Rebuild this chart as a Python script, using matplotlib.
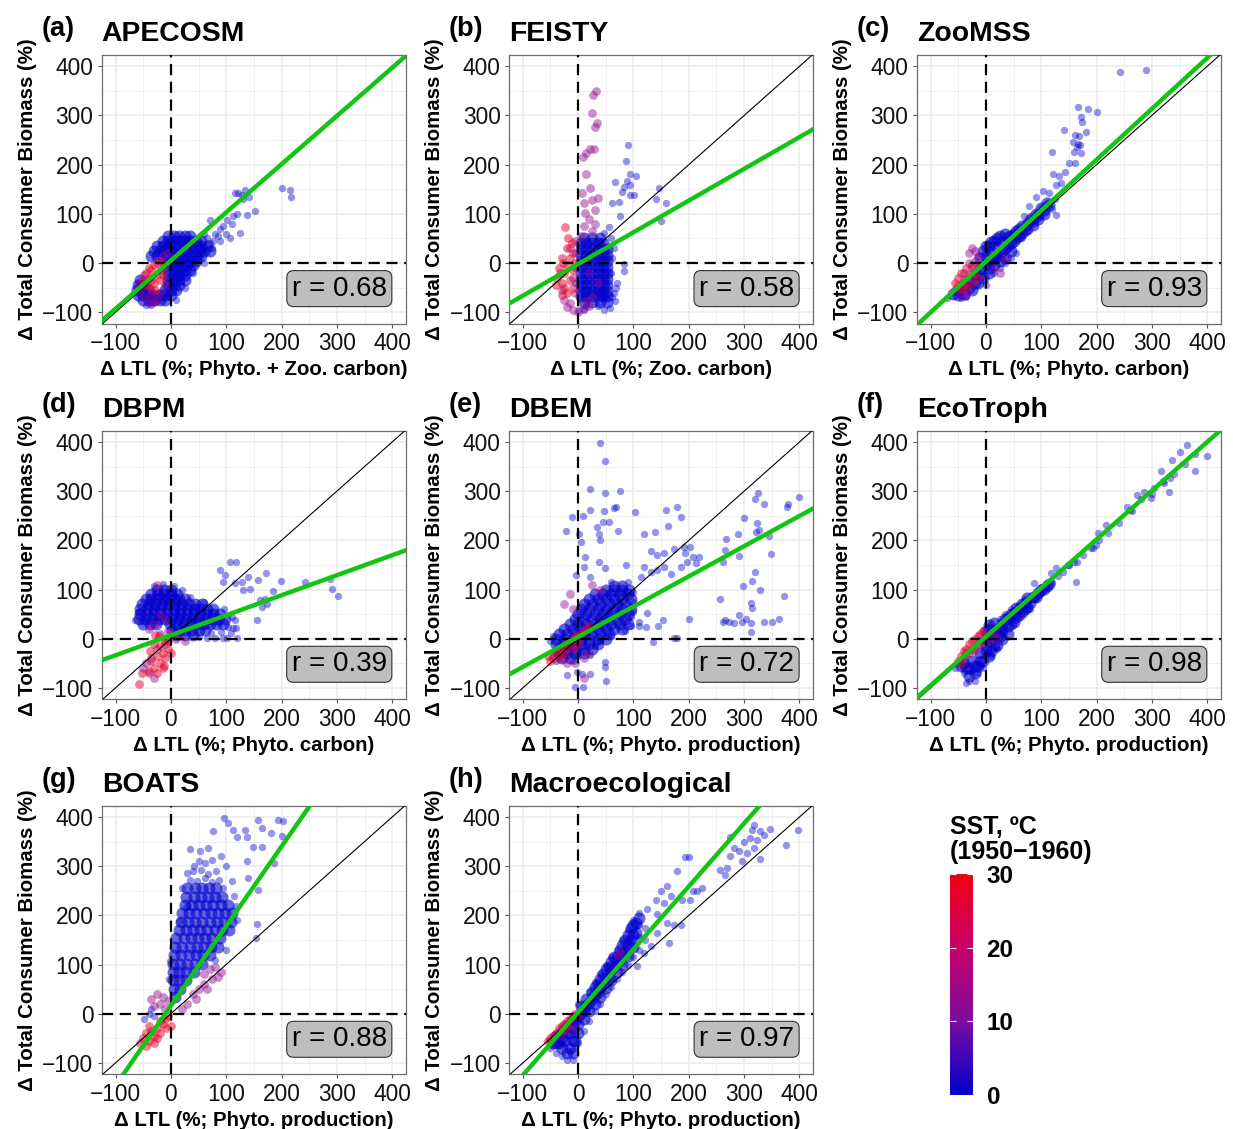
import matplotlib.pyplot as plt
from matplotlib.colors import LinearSegmentedColormap, Normalize
from matplotlib.cm import ScalarMappable

plt.rcParams["font.family"] = ["Liberation Sans", "DejaVu Sans"]

models = ["APECOSM", "FEISTY", "ZooMSS", "DBPM", "DBEM", "EcoTroph", "BOATS", "Macroecological"]
tags = ["(a)", "(b)", "(c)", "(d)", "(e)", "(f)", "(g)", "(h)"]
x_labels = [
    "Δ LTL (%; Phyto. + Zoo. carbon)",
    "Δ LTL (%; Zoo. carbon)",
    "Δ LTL (%; Phyto. carbon)",
    "Δ LTL (%; Phyto. carbon)",
    "Δ LTL (%; Phyto. production)",
    "Δ LTL (%; Phyto. production)",
    "Δ LTL (%; Phyto. production)",
    "Δ LTL (%; Phyto. production)",
]
y_label = "Δ Total Consumer Biomass (%)"
r_values = [0.68, 0.58, 0.93, 0.39, 0.72, 0.98, 0.88, 0.97]
fit_intercepts = [5, -2, 3, 7, 4, 4, 16, 3]
fit_slopes = [0.98, 0.645, 1.035, 0.407, 0.614, 0.99, 1.62, 1.28]
band_sst = [0, 0, 13, 27]  # dense cold core / scattered cold / mid / warm, deg C

# ---- APECOSM (x, y) ----
apecosm_core = [
    (-5, 55), (5, 55), (15, 55), (25, 55), (35, 55),
    (-15, 45), (-5, 45), (5, 45), (15, 45), (25, 45), (35, 45), (45, 45), (55, 45),
    (-25, 35), (-15, 35), (-5, 35), (5, 35), (15, 35), (25, 35), (35, 35), (45, 35), (55, 35), (65, 35),
    (-30, 25), (-20, 25), (-10, 25), (0, 25), (10, 25), (20, 25), (30, 25), (40, 25), (50, 25), (60, 25), (70, 25),
    (-35, 15), (-25, 15), (-15, 15), (-5, 15), (5, 15), (15, 15), (25, 15), (35, 15), (45, 15), (55, 15),
    (-5, 5), (5, 5), (15, 5), (25, 5), (35, 5), (45, 5),
    (0, -5), (10, -5), (20, -5), (30, -5), (40, -5),
    (-5, -15), (5, -15), (15, -15), (25, -15), (35, -15),
    (-5, -25), (5, -25), (15, -25), (25, -25),
    (-55, -35), (-5, -35), (5, -35), (15, -35), (25, -35),
    (-60, -45), (-50, -45), (-5, -45), (5, -45), (15, -45),
    (-62, -55), (-52, -55), (-42, -55), (-10, -55), (0, -55), (10, -55),
    (-60, -65), (-50, -65), (-40, -65), (-30, -65), (-20, -65), (-10, -65), (0, -65),
    (-50, -75), (-40, -75), (-30, -75), (-20, -75), (-10, -75),
]
apecosm_cold = [
    (71, 88), (89, 70), (101, 88), (113, 95), (137, 98), (152, 106), (77, 44), (89, 44), (107, 51), (125, 61),
    (116, 142), (122, 142), (128, 139), (134, 149), (142, 135), (200, 152), (216, 148), (217, 135),
    (80, 60), (95, 75), (65, 50), (75, 30), (53, 10), (40, -20), (25, -50), (10, -75), (-45, -85), (-35, -85),
    (60, 60), (70, 40), (85, 55), (100, 60), (110, 80), (120, 100), (130, 130), (60, 0),
]
apecosm_mid = [(-55, -55), (-48, -70), (-40, -82), (-30, -80), (-58, -40), (-20, -60), (-10, -45),
               (-15, 15), (-5, 20), (-35, -65), (-48, -25), (-25, -75)]
apecosm_warm = [(-45, -45), (-40, -30), (-35, -15), (-30, -5), (-25, 0), (-20, 5), (-38, -50), (-30, -40),
                (-25, -25), (-18, -15), (-12, -5), (-45, -20), (-50, -35), (-28, -55), (-20, -35), (-35, -35),
                (-40, -10), (-15, -25)]

# ---- FEISTY ----
feisty_core = [
    (10, 50), (25, 50), (40, 50),
    (5, 40), (15, 40), (25, 40), (35, 40), (45, 40),
    (5, 28), (15, 28), (25, 28), (35, 28), (45, 28), (52, 28),
    (5, 16), (15, 16), (25, 16), (35, 16), (45, 16), (52, 16),
    (5, 4), (15, 4), (25, 4), (35, 4), (45, 4), (52, 4),
    (5, -8), (15, -8), (25, -8), (35, -8), (45, -8), (52, -8),
    (5, -20), (15, -20), (25, -20), (35, -20), (45, -20), (52, -20),
    (5, -32), (15, -32), (25, -32), (35, -32), (45, -32), (52, -32),
    (5, -44), (15, -44), (25, -44), (35, -44), (45, -44), (52, -44),
    (5, -56), (15, -56), (25, -56), (35, -56), (45, -56), (52, -56),
    (5, -68), (15, -68), (25, -68), (35, -68), (45, -68), (52, -68),
    (10, -80), (25, -80), (40, -80), (52, -80),
]
feisty_cold = [
    (1, -95), (10, -95), (46, -95), (58, -92), (15, -88), (35, -88),
    (90, 240), (87, 208), (94, 182), (105, 177), (67, 164), (82, 155), (88, 166), (94, 159), (79, 145),
    (94, 139), (101, 139), (61, 122), (73, 125), (76, 95), (146, 152), (141, 130), (158, 122), (150, 86),
    (82, -3), (82, -17), (70, -41), (67, -78), (65, -60), (68, -50), (55, 74), (46, 61), (65, 30),
    (60, 50), (62, 10), (60, -20), (62, -70), (-5, 20), (-5, -10), (-5, -40),
]
feisty_mid = [(33, 350), (27, 341), (25, 306), (34, 284), (31, 277), (28, 232), (21, 232), (14, 223), (9, 216),
              (14, 182), (22, 152), (7, 142), (36, 132), (25, 128), (10, 122), (31, 108), (13, 101), (20, 90),
              (30, 80), (10, 75), (25, 65), (5, 55), (-5, 45), (-15, 30), (-20, -90), (-10, -95), (0, -100),
              (10, -92), (20, -88), (-25, -75), (-15, -82), (15, -78), (25, -70), (-5, -60), (-30, -55),
              (-10, -30), (20, -20), (35, -40)]
feisty_warm = [(-23, 74), (-20, 30), (-30, 10), (-35, -10), (-38, -30), (-40, -45), (-30, -40), (-25, -20),
               (-20, -5), (-15, 10), (-10, 20), (-25, -50), (-15, -35), (-10, -15), (-5, 0), (-28, 0),
               (-33, -20), (-20, -60), (-10, -50), (-12, 40), (-18, 50), (-30, -65)]

# ---- ZooMSS ----
zoomss_core = [
    (-60, -62), (-50, -55), (-40, -45), (-30, -35), (-20, -22), (-10, -12), (0, -2), (0, 15), (10, 5), (10, 22),
    (20, 15), (20, 32), (30, 25), (30, 42), (40, 35), (40, 52), (50, 45), (50, 60), (60, 55), (60, 70),
    (70, 68), (75, 80), (85, 85), (95, 98), (105, 108), (115, 118), (-5, -30), (5, -20), (15, -5), (25, 5),
    (35, 10), (45, 25), (-15, -40), (-25, -55), (-40, -62), (0, 35), (10, 42), (20, 50),
    (-10, 10), (-5, 25), (5, 35), (15, 45), (25, 55), (35, 60), (45, 55), (55, 50), (65, 62), (75, 70),
    (85, 78), (95, 90), (105, 100), (100, 112), (-30, -50), (-50, -65), (-20, -40), (-10, -25), (5, -10),
    (15, 10), (25, 20), (35, 30), (45, 40), (55, 65), (65, 75), (80, 88), (90, 100), (110, 122),
]
zoomss_cold = [
    (-70, -72), (-45, -72), (-35, -70), (0, -45), (55, 20), (45, 10), (35, 0), (25, -10), (15, -20),
    (65, 50), (80, 95), (90, 100), (100, 112), (110, 120), (125, 130), (120, 110),
    (243, 389), (289, 393), (166, 318), (184, 314), (200, 307), (172, 297), (174, 287), (142, 270), (161, 261),
    (181, 267), (169, 259), (158, 247), (166, 242), (160, 226), (172, 223), (151, 203), (161, 203), (120, 225),
    (122, 182), (133, 177), (136, 162), (143, 186), (127, 159), (90, 135), (104, 147), (114, 143), (127, 98),
    (78, 115), (69, 95), (165, 235), (170, 240),
]
zoomss_mid = [(-30, 20), (-25, 30), (-20, 25), (-15, 15), (-20, 5), (-30, 0), (-10, -5), (-25, -10), (-40, -20),
              (-55, -55), (-45, -60), (-35, -65), (15, -10), (25, -20), (35, 10)]
zoomss_warm = [(-55, -40), (-50, -30), (-45, -20), (-40, -35), (-35, -10), (-30, -25), (-25, -40), (-20, -20),
               (-45, -50), (-35, -50), (-25, -5), (-15, -30), (-50, -45), (-40, -45)]

# ---- DBPM ----
dbpm_core = [
    (-25, 100), (-12, 100), (0, 100),
    (-35, 90), (-24, 90), (-12, 90), (0, 90), (12, 90),
    (-45, 80), (-35, 80), (-25, 80), (-15, 80), (-5, 80), (5, 80), (15, 80), (25, 80),
    (-52, 70), (-40, 70), (-28, 70), (-16, 70), (-4, 70), (8, 70), (20, 70), (32, 70), (44, 70), (56, 70),
    (-55, 60), (-43, 60), (-31, 60), (-19, 60), (-7, 60), (5, 60), (17, 60), (29, 60), (41, 60), (53, 60),
    (65, 60), (77, 60),
    (-55, 50), (-43, 50), (-31, 50), (-19, 50), (-7, 50), (5, 50), (17, 50), (29, 50), (41, 50), (53, 50),
    (65, 50), (77, 50), (89, 50),
    (-58, 40), (-46, 40), (-34, 40), (-22, 40), (-10, 40), (2, 40), (14, 40), (26, 40), (38, 40), (50, 40),
    (62, 40), (74, 40), (86, 40), (98, 40),
    (-50, 30), (-38, 30), (-26, 30), (-2, 30), (10, 30), (22, 30), (34, 30), (46, 30), (58, 30), (70, 30),
    (82, 30), (94, 30),
    (2, 18), (14, 18), (26, 18), (38, 18), (50, 18), (62, 18),
    (10, 8), (25, 8), (40, 8),
]
dbpm_cold = [
    (72, 12), (90, 14), (108, 12), (50, 3), (65, 2), (80, 2), (95, 2), (104, 24), (118, 22), (116, 38),
    (-64, 38), (-60, 55), (-30, 108), (-15, 112), (5, 108), (20, 100), (35, 85), (60, 75), (96, 60), (110, 45),
    (107, 155), (117, 157), (89, 140), (97, 129), (95, 116), (116, 113), (128, 116), (140, 126), (131, 99),
    (143, 102), (158, 119), (172, 133), (184, 98), (199, 118), (243, 116), (288, 121), (291, 102), (302, 87),
    (155, 38), (173, 71), (161, 79), (113, 21), (119, 1), (101, 1), (170, 80), (165, 65),
]
dbpm_mid = [(-20, 50), (-10, 40), (-30, 30), (-40, 20), (-20, 10), (-5, 15), (15, 5), (25, -5), (-25, -20),
            (-35, -40), (-45, -50), (-40, -70), (-30, -80), (-50, -60), (10, 0), (-10, -10), (-25, 110)]
dbpm_warm = [(-30, -10), (-20, -15), (-10, -5), (-5, -20), (-15, -30), (-25, -35), (-35, -45), (-20, -50),
             (-10, -40), (-30, -60), (-25, -70), (-15, -60), (-40, -65), (-58, -92), (-52, -69), (-5, -5),
             (-22, 5), (-28, 8), (0, -30), (-12, -55), (-38, -25)]

# ---- DBEM ----
dbem_core = [
    (65, 108), (80, 108),
    (50, 100), (65, 100), (80, 100), (92, 100),
    (30, 90), (45, 90), (60, 90), (75, 90), (90, 90),
    (20, 80), (35, 80), (50, 80), (65, 80), (80, 80), (95, 80),
    (10, 70), (25, 70), (40, 70), (55, 70), (70, 70), (85, 70),
    (5, 60), (20, 60), (35, 60), (50, 60), (65, 60), (80, 60), (95, 60),
    (0, 50), (15, 50), (30, 50), (45, 50), (60, 50), (75, 50), (90, 50),
    (-5, 40), (10, 40), (25, 40), (40, 40), (55, 40), (70, 40), (85, 40),
    (-15, 30), (0, 30), (15, 30), (30, 30), (45, 30), (60, 30), (75, 30), (90, 30),
    (-25, 20), (-10, 20), (5, 20), (20, 20), (35, 20), (50, 20), (65, 20), (80, 20),
    (-35, 10), (-20, 10), (-5, 10), (10, 10), (25, 10), (40, 10), (55, 10),
    (-40, 0), (-25, 0), (-10, 0), (5, 0), (20, 0), (35, 0), (50, 0),
    (-40, -10), (-25, -10), (-10, -10), (5, -10), (20, -10), (35, -10),
    (-35, -20), (-20, -20), (-5, -20), (10, -20), (25, -20),
    (-35, -30), (-20, -30), (-5, -30), (10, -30),
    (-30, -40), (-15, -40),
]
dbem_cold = [
    (100, 55), (95, 45), (110, 35), (110, 25), (95, 25), (85, 15), (60, 5), (-50, -5), (-45, 5), (-45, -35),
    (-40, -45), (-10, -45), (0, -35), (30, -15), (40, -5), (100, 75), (100, 95), (90, 115), (60, 115),
    (40, 398), (48, 361), (22, 305), (75, 300), (49, 296), (-11, 248), (8, 249), (-22, 220), (22, 262),
    (46, 259), (64, 265), (69, 268), (103, 258), (45, 238), (34, 227), (55, 237), (72, 219), (37, 212),
    (1, 213), (5, 197), (40, 200), (13, 166), (37, 156), (10, 146), (48, 143), (-3, 130), (22, 126),
    (158, 261), (179, 268), (186, 247), (162, 229), (119, 212), (138, 217), (132, 178), (143, 170),
    (156, 174), (173, 183), (191, 187), (202, 187), (193, 174), (207, 166), (219, 166), (213, 154),
    (196, 156), (185, 146), (167, 132), (155, 146), (143, 139), (131, 136), (119, 146), (86, 150), (113, 126),
    (399, 289), (379, 273), (378, 267), (325, 296), (319, 285), (335, 274), (299, 245), (323, 235),
    (322, 218), (345, 208), (348, 172), (326, 221), (289, 213), (267, 202), (265, 181), (291, 168),
    (261, 155), (319, 136), (315, 118), (298, 108), (329, 99), (372, 87), (256, 81), (313, 72), (315, 63),
    (363, 41), (350, 35), (335, 35), (313, 31), (313, 14), (296, 35), (290, 48), (304, 41), (281, 31),
    (272, 35), (266, 39), (261, 33), (200, 40), (154, 38), (144, 26), (136, -6), (173, 1), (179, 1),
    (122, 24), (125, 52),
    (-20, -74), (-2, -67), (7, -71), (22, -71), (-5, -98), (8, -98), (51, -87), (49, -57), (49, -47), (22, -33),
]
dbem_mid = [(-30, -40), (-20, -50), (-5, -50), (10, -40), (20, -30), (25, 110), (40, 100), (-10, 60),
            (10, -80), (-25, 70), (-15, 90)]
dbem_warm = [(-45, -40), (-40, -30), (-35, -25), (-30, -20), (-25, -15), (-20, -10), (-15, -5), (-10, 0),
             (-5, 5), (0, 5), (5, 10), (10, 15), (15, 20), (20, 25), (-50, -45), (-35, -40), (-25, -30),
             (-10, -20), (0, -10), (-55, -35)]

# ---- EcoTroph ----
ecotroph_core = [
    (-45, -55), (-35, -60), (-30, -75), (-20, -70), (-15, -55), (-5, -45), (-10, -30), (0, -25), (0, -12),
    (10, -5), (10, 10), (20, 5), (20, 20), (30, 15), (30, 30), (40, 25), (40, 42), (50, 35), (50, 52),
    (60, 48), (60, 62), (70, 60), (70, 72), (80, 72), (85, 85), (95, 92), (105, 102), (115, 112),
    (10, -25), (20, -12), (30, 0), (40, 10), (5, 20), (15, 32),
    (0, 0), (0, 15), (5, 28), (15, -15), (25, 5), (25, 20), (35, 40), (45, 30), (45, 50), (55, 45), (55, 62),
    (65, 55), (65, 70), (75, 65), (75, 82), (90, 85), (100, 100), (110, 108), (-20, -55), (-30, -60),
    (-25, -45), (-10, -45), (5, -35), (-40, -50),
]
ecotroph_cold = [
    (-55, -60), (-40, -70), (-30, -85), (-35, -90), (-20, -85), (-25, -65), (-15, -70), (-10, -55),
    (0, -30), (20, -20), (10, -35), (-5, -60), (25, 40), (35, 50), (45, 60), (55, 55), (65, 65), (75, 75),
    (90, 80), (100, 92), (110, 105), (120, 115), (130, 128), (140, 135), (150, 150), (160, 155), (175, 170),
    (190, 185), (205, 200), (220, 215), (240, 235), (260, 262), (280, 285), (300, 295), (320, 320),
    (340, 335), (360, 355),
    (364, 393), (351, 380), (337, 364), (378, 376), (399, 371), (378, 341), (316, 342), (333, 326),
    (322, 316), (331, 299), (298, 287), (304, 306), (286, 299), (273, 292), (255, 268), (265, 260),
    (217, 231), (202, 214), (199, 190), (193, 184), (164, 157), (163, 116), (149, 150), (127, 143),
    (117, 133), (87, 113), (99, 106), (70, 80), (80, 60),
]
ecotroph_mid = [(-40, -40), (-30, -30), (-20, -25), (-10, -10), (5, -5), (15, 10), (20, 0)]
ecotroph_warm = [(-50, -45), (-45, -35), (-40, -25), (-35, -20), (-30, -10), (-25, -5), (-20, 0), (-15, 5),
                 (-10, 10), (-5, 15), (-35, -30), (-25, -20), (-15, -10), (-45, -50)]

# ---- BOATS ----
boats_core = [
    (30, 255), (43, 255), (56, 255), (69, 255), (82, 255),
    (28, 238), (41, 238), (54, 238), (67, 238), (80, 238), (93, 238),
    (25, 221), (38, 221), (51, 221), (64, 221), (77, 221), (90, 221), (103, 221),
    (20, 204), (33, 204), (46, 204), (59, 204), (72, 204), (85, 204), (98, 204), (110, 204),
    (18, 187), (31, 187), (44, 187), (57, 187), (70, 187), (83, 187), (96, 187), (108, 187),
    (14, 170), (27, 170), (40, 170), (53, 170), (66, 170), (79, 170), (92, 170), (105, 170),
    (10, 153), (23, 153), (36, 153), (49, 153), (62, 153), (75, 153), (88, 153),
    (8, 136), (21, 136), (34, 136), (47, 136), (60, 136), (73, 136), (86, 136),
    (6, 119), (19, 119), (32, 119), (45, 119), (58, 119), (71, 119),
    (4, 102), (17, 102), (30, 102), (43, 102), (56, 102),
    (3, 85), (15, 85), (28, 85), (41, 85),
    (3, 68), (15, 68), (28, 68),
    (5, 51), (17, 51), (8, 34),
]
boats_cold = [
    (50, 310), (62, 306), (74, 312), (40, 290), (55, 292), (68, 285), (82, 290), (35, 272), (48, 270),
    (61, 275), (74, 268), (87, 272), (95, 255),
    (96, 399), (104, 388), (77, 372), (113, 374), (134, 374), (157, 393), (193, 393), (202, 391), (164, 377),
    (181, 368), (201, 362), (137, 360), (119, 360), (149, 340), (164, 340), (186, 307), (137, 310),
    (140, 276), (157, 252), (155, 183), (153, 154), (53, 330), (41, 300), (29, 286), (20, 256), (29, 219),
    (14, 188), (-1, 107), (-4, 70), (35, 334), (68, 337), (90, 320), (100, 300), (110, 270), (115, 240),
    (118, 220), (120, 190), (100, 130), (80, 110),
    (-48, -10), (-40, 0), (-30, -5), (-35, 10),
]
boats_mid = [(60, 80), (70, 90), (80, 95), (90, 85), (75, 70), (50, 50), (40, 40), (60, 60), (85, 75), (65, 50),
             (45, 30), (30, 20), (20, 10), (-35, 30), (-25, 40), (-15, 35), (-30, 15), (-20, 20), (-10, 10),
             (-5, 25)]
boats_warm = [(-50, -50), (-45, -40), (-40, -55), (-35, -35), (-30, -45), (-25, -30), (-20, -40), (-15, -20),
              (-10, -10), (-5, -5), (0, -25), (-20, -15), (-8, -30), (-40, -25), (-55, -60), (-30, -60),
              (-45, -65), (-25, -50)]

# ---- Macroecological ----
macro_core = [
    (-40, -60), (-30, -50), (-20, -40), (-10, -30), (0, -20), (-40, -45), (-30, -35), (-20, -25), (-10, -12),
    (0, -5), (10, -10), (10, 8), (20, 5), (20, 22), (30, 20), (30, 38), (40, 35), (40, 55), (50, 52),
    (50, 72), (60, 68), (60, 88), (70, 85), (70, 105), (80, 100), (80, 122), (90, 118), (90, 140),
    (100, 135), (100, 160), (95, 175), (105, 185), (-30, -70), (-20, -80), (-10, -80), (-10, -55), (0, -40),
    (5, 15), (15, 30), (25, 45), (35, 60), (45, 80), (55, 95), (65, 115), (75, 130), (85, 150),
    (-5, -15), (5, 0), (15, 15), (25, 30), (35, 45), (45, 60), (55, 75), (65, 95), (75, 110), (85, 125),
    (95, 150), (105, 165), (110, 195), (60, 105), (50, 90), (40, 70), (30, 55), (70, 115), (80, 140),
    (90, 160), (100, 180), (-15, -40), (-25, -55), (-35, -60), (-5, -55), (-15, -70), (-45, -60),
]
macro_cold = [
    (-50, -70), (-50, -55), (-40, -80), (-30, -85), (-20, -95), (-10, -95), (0, -60), (0, 20), (10, -35),
    (20, -15), (20, 45), (30, 5), (30, 65), (40, 20), (40, 80), (50, 40), (50, 100), (60, 55), (60, 115),
    (70, 70), (70, 130), (80, 85), (80, 150), (90, 100), (90, 170), (100, 115), (100, 190), (110, 130),
    (110, 155), (110, 180), (110, 205), (120, 150), (120, 175),
    (179, 290), (200, 318), (194, 318), (161, 259), (149, 249), (167, 239), (140, 232), (155, 225),
    (125, 212), (143, 202), (161, 185), (143, 164), (173, 181), (185, 181), (164, 144), (131, 137),
    (119, 124), (107, 97), (203, 232), (215, 249), (224, 256), (188, 232), (208, 249),
    (314, 374), (317, 384), (328, 371), (346, 376), (335, 364), (311, 357), (323, 354), (299, 350),
    (281, 337), (290, 330), (275, 320), (269, 296), (257, 293), (266, 283), (296, 310), (329, 314),
    (376, 344), (398, 373), (305, 327), (317, 337), (275, 360),
]
macro_mid = [(70, 120), (75, 125), (-10, -30), (0, -5), (-35, -45), (-25, -35)]
macro_warm = [(-50, -50), (-45, -45), (-40, -40), (-35, -30), (-30, -25), (-25, -20), (-20, -15), (-15, -10),
              (-10, -5), (-5, 0), (-55, -55), (-30, -35), (-20, -25)]

panel_points = [
    (apecosm_core, apecosm_cold, apecosm_mid, apecosm_warm),
    (feisty_core, feisty_cold, feisty_mid, feisty_warm),
    (zoomss_core, zoomss_cold, zoomss_mid, zoomss_warm),
    (dbpm_core, dbpm_cold, dbpm_mid, dbpm_warm),
    (dbem_core, dbem_cold, dbem_mid, dbem_warm),
    (ecotroph_core, ecotroph_cold, ecotroph_mid, ecotroph_warm),
    (boats_core, boats_cold, boats_mid, boats_warm),
    (macro_core, macro_cold, macro_mid, macro_warm),
]

W, H = 1233, 1129
fig = plt.figure(figsize=(W / 100, H / 100), dpi=100)

sst_cmap = LinearSegmentedColormap.from_list(
    "sst", ["#0000cd", "#7a0c9e", "#c8006a", "#f00012"]
)
norm = Normalize(0, 30)

# marker size / alpha for core, scattered, mid and warm layers
layer_size = [75, 28, 40, 40]
layer_alpha = [0.6, 0.42, 0.45, 0.5]

# panel placement in pixels
col_left = [101.7, 509, 916.7]
row_top = [55, 430.7, 805.7]
pw, ph = 304.3, 268.5

for i, model in enumerate(models):
    r, c = divmod(i, 3)
    ax = fig.add_axes([col_left[c] / W, 1 - (row_top[r] + ph) / H, pw / W, ph / H])
    ax.set_xlim(-125, 425)
    ax.set_ylim(-123, 423)
    ax.set_xticks(range(-100, 401, 100))
    ax.set_yticks(range(-100, 401, 100))
    ax.set_xticks(range(-50, 401, 100), minor=True)
    ax.set_yticks(range(-50, 401, 100), minor=True)
    ax.grid(which="major", color="#ebebeb", lw=1.1)
    ax.grid(which="minor", color="#ebebeb", lw=0.55)
    ax.set_axisbelow(True)
    for sp in ax.spines.values():
        sp.set_color("#6e6e6e")
        sp.set_linewidth(0.9)
    ax.tick_params(which="minor", length=0)
    ax.tick_params(which="major", length=3, width=0.8, color="#555555",
                   labelsize=16.4, labelcolor="#111111", pad=3)

    for k, pts in enumerate(panel_points[i]):
        xs = [p[0] for p in pts]
        ys = [p[1] for p in pts]
        ax.scatter(xs, ys, s=layer_size[k], color=sst_cmap(norm(band_sst[k])),
                   alpha=layer_alpha[k], linewidths=0, zorder=2)

    ax.axline((0, 0), slope=1, color="black", lw=0.8, zorder=3)
    ax.axhline(0, color="black", lw=1.6, ls=(0, (5, 3)), zorder=3)
    ax.axvline(0, color="black", lw=1.6, ls=(0, (5, 3)), zorder=3)
    ax.axline((0, fit_intercepts[i]), slope=fit_slopes[i], color="#14c414",
              lw=3.2, zorder=4)

    ax.text(0.937, 0.13, f"r = {r_values[i]:.2f}", transform=ax.transAxes,
            ha="right", va="center", fontsize=20, zorder=6,
            bbox=dict(boxstyle="round,pad=0.18,rounding_size=0.25",
                      fc="#bebebe", ec="#333333", lw=0.8))

    ax.set_title(model, loc="left", fontsize=20.4, fontweight="bold", pad=10)
    ax.text(-60 / pw, 1 + 19 / ph, tags[i], transform=ax.transAxes,
            ha="left", va="baseline", fontsize=19.6, fontweight="bold")
    ax.set_xlabel(x_labels[i], fontsize=14.7, fontweight="bold", labelpad=4)
    ax.set_ylabel(y_label, fontsize=14.7, fontweight="bold", labelpad=4)

# colour bar
cax = fig.add_axes([950 / W, 1 - 1095 / H, 22.7 / W, 220.7 / H])
cb = fig.colorbar(ScalarMappable(norm=norm, cmap=sst_cmap), cax=cax,
                  ticks=[0, 10, 20, 30])
cb.outline.set_visible(False)
cax.tick_params(direction="in", color="white", length=4.5, width=0.8,
                left=True, right=True, labelsize=17.5, pad=10)
for lbl in cax.get_yticklabels():
    lbl.set_fontweight("bold")
fig.text(950 / W, 1 - 864 / H, "SST, ºC\n(1950−1960)", ha="left", va="bottom",
         fontsize=18, fontweight="bold", linespacing=1.05)

fig.savefig("out.png", dpi=100)
